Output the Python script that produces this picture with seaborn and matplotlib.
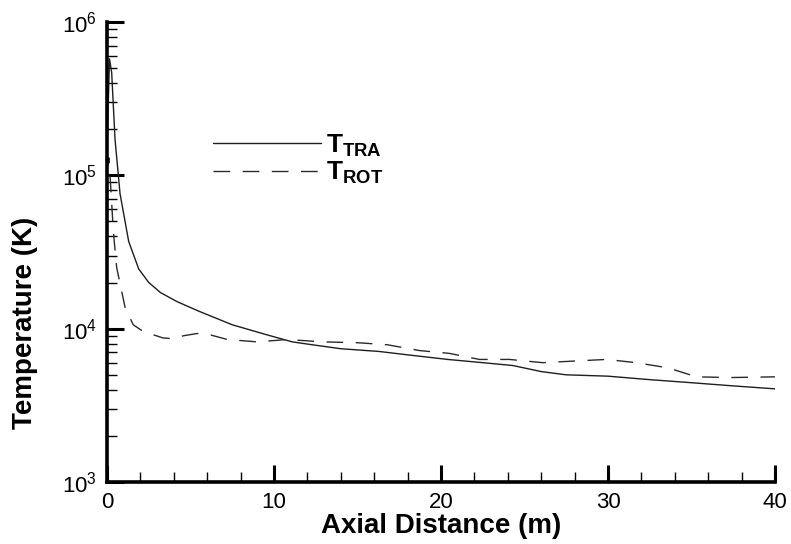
import numpy as np
import pandas as pd
import matplotlib
matplotlib.use("Agg")
import matplotlib.pyplot as plt
from matplotlib.ticker import MultipleLocator, LogLocator, NullFormatter
import seaborn as sns

# ---- data ----
x_tra = [0.0, 0.15, 0.28, 0.48, 0.78, 1.3, 1.9, 2.5, 3.2, 4.2, 5.5, 7.5, 9.6,
         11.1, 12.3, 14.0, 16.3, 18.0, 20.4, 22.5, 24.3, 26.0, 27.5, 30.0,
         32.5, 34.9, 37.3, 40.0]
t_tra = [1.48e5, 5.75e5, 4.68e5, 1.72e5, 7.6e4, 3.7e4, 2.45e4, 2.0e4, 1.72e4,
         1.5e4, 1.3e4, 1.06e4, 9.1e3, 8.2e3, 7.85e3, 7.4e3, 7.1e3, 6.75e3,
         6.3e3, 6.0e3, 5.75e3, 5.25e3, 5.0e3, 4.9e3, 4.65e3, 4.45e3, 4.25e3,
         4.05e3]

x_rot = [0.0, 0.12, 0.38, 0.58, 1.08, 1.57, 2.16, 3.35, 3.95, 4.6, 5.4, 6.2,
         7.2, 9.0, 10.8, 12.9, 15.0, 16.8, 18.7, 20.5, 22.3, 24.1, 26.1, 28.0,
         29.9, 31.7, 33.6, 35.3, 37.3, 40.0]
t_rot = [1.1e5, 1.3e5, 4.3e4, 2.5e4, 1.38e4, 1.06e4, 9.6e3, 8.7e3, 8.6e3,
         9.0e3, 9.3e3, 9.1e3, 8.5e3, 8.2e3, 8.5e3, 8.2e3, 8.1e3, 7.85e3,
         7.2e3, 6.9e3, 6.3e3, 6.3e3, 6.0e3, 6.15e3, 6.3e3, 6.0e3, 5.55e3,
         4.85e3, 4.8e3, 4.85e3]

series_names = ["TRA", "ROT"]
legend_labels = [r"$\mathbf{T}_{\mathbf{TRA}}$", r"$\mathbf{T}_{\mathbf{ROT}}$"]
x_ticks = [0, 10, 20, 30, 40]

df = pd.concat([
    pd.DataFrame({"x": x_tra, "T": t_tra, "series": "TRA"}),
    pd.DataFrame({"x": x_rot, "T": t_rot, "series": "ROT"}),
], ignore_index=True)

sns.set_theme(style="ticks")
plt.rcParams["font.family"] = ["Liberation Sans", "DejaVu Sans"]
plt.rcParams["mathtext.fontset"] = "custom"
plt.rcParams["mathtext.rm"] = "Liberation Sans"
plt.rcParams["mathtext.it"] = "Liberation Sans:italic"
plt.rcParams["mathtext.bf"] = "Liberation Sans:bold"
plt.rcParams["text.color"] = "black"
plt.rcParams["axes.labelcolor"] = "black"

fig = plt.figure(figsize=(7.91, 5.44), dpi=100)
ax = fig.add_axes([107 / 791, 1 - 482 / 544, (775 - 107) / 791, (482 - 22) / 544])

sns.lineplot(data=df, x="x", y="T", hue="series", style="series",
             hue_order=series_names, style_order=series_names,
             palette={"TRA": "#1e1e1e", "ROT": "#2a2a2a"},
             dashes={"TRA": "", "ROT": (12, 9)},
             linewidth=1.0, sort=False, estimator=None, legend=False, ax=ax)

ax.set_yscale("log")
ax.set_xlim(0, 40)
ax.set_ylim(1e3, 1e6)
ax.set_xticks(x_ticks)
ax.xaxis.set_minor_locator(MultipleLocator(2))
ax.yaxis.set_major_locator(LogLocator(base=10, numticks=10))
ax.yaxis.set_minor_locator(LogLocator(base=10, subs=np.arange(2, 10), numticks=20))
ax.yaxis.set_minor_formatter(NullFormatter())

for s in ["top", "right"]:
    ax.spines[s].set_visible(False)
for s in ["left", "bottom"]:
    ax.spines[s].set_linewidth(2.6)
    ax.spines[s].set_color("black")

ax.tick_params(which="major", direction="in", length=12, width=2.2,
               color="black", labelsize=16, pad=7, labelcolor="black")
ax.tick_params(which="minor", direction="in", length=7, width=1.0, color="black")

ax.set_xlabel("Axial Distance (m)", fontsize=20, fontweight="bold",
              labelpad=0, color="black")
ax.set_ylabel("Temperature (K)", fontsize=20, fontweight="bold", color="black")
ax.yaxis.set_label_coords(-0.103, 0.345)

lines = ax.get_lines()[:2]
leg = ax.legend(lines, legend_labels, loc="upper left",
                bbox_to_anchor=(202 / 791, 1 - 122 / 544),
                bbox_transform=fig.transFigure, frameon=False,
                fontsize=19, handlelength=4.1, handletextpad=0.2,
                labelspacing=0.05, borderaxespad=0)
for t in leg.get_texts():
    t.set_color("black")

ax.set_facecolor("white")
fig.patch.set_facecolor("white")
fig.savefig("out.png", dpi=100, facecolor="white")
